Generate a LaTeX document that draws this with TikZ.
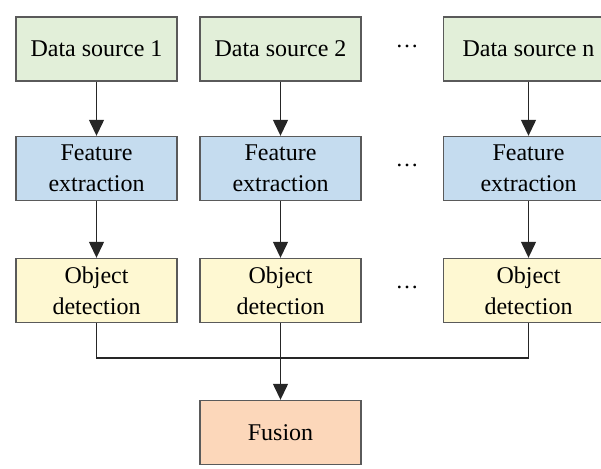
\documentclass[tikz,border=0pt]{standalone}
\usepackage{fontspec}
\newfontfamily\tnr{Liberation Serif}
\usetikzlibrary{arrows.meta,fit}
\definecolor{gfill}{HTML}{E2EFD9}
\definecolor{bfill}{HTML}{C5DCEF}
\definecolor{yfill}{HTML}{FEF8D2}
\definecolor{ofill}{HTML}{FCD7BA}
\definecolor{bord}{HTML}{5A5A5A}
\tikzset{
  box/.style={draw=bord, line width=1.4pt, minimum width=161pt, minimum height=64pt,
    inner sep=0pt, align=center, font=\tnr\fontsize{24}{31}\selectfont},
  gbox/.style={box, fill=gfill},
  bbox/.style={box, fill=bfill},
  ybox/.style={box, fill=yfill},
  obox/.style={box, fill=ofill},
  txt/.style={inner sep=0pt, align=center, font=\tnr\fontsize{24}{31}\selectfont},
  dots/.style={inner sep=0pt, font=\tnr\fontsize{23}{26}\selectfont},
  conn/.style={line width=1.3pt, draw=black!85},
  arr/.style={conn, -{Triangle[length=16pt,width=15pt]}}
}
\begin{document}
\begin{tikzpicture}[x=1pt,y=-1pt]
\useasboundingbox (0,0) rectangle (601,468);
% column 1
\node[gbox] (d1) at (96.5,49) {Data source 1};
\node[bbox] (f1) at (96.5,168.5) {Feature\\extraction};
\node[ybox] (o1) at (96.5,290.5) {Object\\detection};
% column 2
\node[gbox] (d2) at (280.5,49) {Data source 2};
\node[bbox] (f2) at (280.5,168.5) {Feature\\extraction};
\node[ybox] (o2) at (280.5,290.5) {Object\\detection};
% column n (box cut at the right edge)
\node[gbox, fit={(448,17) (600,81)}] (dnb) {};
\node[bbox, fit={(448,137) (600,200)}] (fnb) {};
\node[ybox, fit={(448,259) (600,322)}] (onb) {};
\node[txt] (dn) at (528.5,49) {Data source n};
\node[txt] (fn) at (528.5,168.5) {Feature\\extraction};
\node[txt] (on) at (528.5,290.5) {Object\\detection};
% dots
\node[dots] (e1) at (407,46) {…};
\node[dots] (e2) at (407,165) {…};
\node[dots] (e3) at (407,287) {…};
% fusion
\node[obox] (fu) at (280.5,432.5) {Fusion};
% connectors
\draw[arr] (d1) -- (f1);
\draw[arr] (f1) -- (o1);
\draw[arr] (d2) -- (f2);
\draw[arr] (f2) -- (o2);
\draw[arr] (dnb.south -| dn) -- (fnb.north -| dn);
\draw[arr] (fnb.south -| dn) -- (onb.north -| dn);
\coordinate (j) at (280.5,358);
\draw[conn] (o1.south) |- (j) -| (onb.south -| on);
\draw[arr] (o2.south) -- (fu.north);
\end{tikzpicture}
\end{document}
